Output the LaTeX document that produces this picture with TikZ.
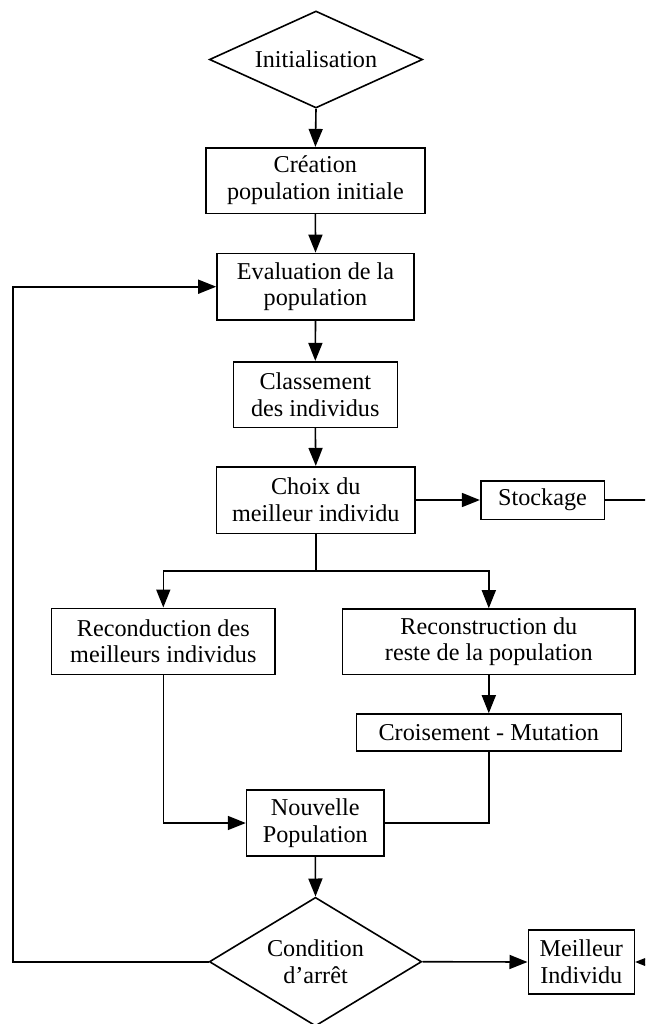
\documentclass[tikz,border=0pt]{standalone}
\usepackage{fontspec}
\setmainfont{Liberation Serif}
\usetikzlibrary{shapes.geometric,arrows.meta}
\begin{document}
\begin{tikzpicture}[x=0.5pt,y=-0.5pt,
  every node/.style={font=\fontsize{12.1pt}{13.4pt}\selectfont, align=center, inner sep=0pt},
  box/.style={draw, line width=0.8pt, rectangle},
  dia/.style={draw, line width=0.8pt, diamond},
  arr/.style={line width=0.8pt, -{Triangle[length=9pt,width=7pt]}},
  ln/.style={line width=0.8pt}]
\clip (0,0) rectangle (645,1024);
\node[dia, aspect=2.2, minimum width=106.6pt, minimum height=48.5pt] (init) at (316,59.5) {Initialisation};
\node[box, minimum width=109.7pt, minimum height=32.8pt] (crea) at (315.4,180.5) {Création\\population initiale};
\node[box, minimum width=98.5pt, minimum height=33.3pt] (eval) at (315.5,286.7) {Evaluation de la\\population};
\node[box, minimum width=82pt, minimum height=32.8pt] (clas) at (315.3,394.5) {Classement\\des individus};
\node[box, minimum width=99.2pt, minimum height=33.3pt] (choix) at (315.8,500) {Choix du\\meilleur individu};
\node[box, minimum width=61.8pt, minimum height=19.3pt] (stock) at (542.5,500) {Stockage};
\node[box, minimum width=111.7pt, minimum height=33pt] (recond) at (163.3,641.3) {Reconduction des\\meilleurs individus};
\node[box, minimum width=146.2pt, minimum height=32.7pt] (recons) at (488.8,641.7) {Reconstruction du\\reste de la population};
\node[box, minimum width=132.5pt, minimum height=18.5pt] (crois) at (488.8,732.5) {Croisement - Mutation};
\node[box, minimum width=68.7pt, minimum height=33pt] (nouv) at (315.3,823) {Nouvelle\\Population};
\node[dia, aspect=1.65, minimum width=106.2pt, minimum height=64.4pt] (cond) at (315.5,961.7) {Condition\\d’arrêt};
\node[box, minimum width=53pt, minimum height=32pt] (meil) at (581.3,962) {Meilleur\\Individu};
\coordinate (branch) at (315.8,571);
\coordinate (loopx) at (12.7,961.7);
\coordinate (rt) at (660,500);
\draw[arr] (init.south) -- (crea.north);
\draw[arr] (crea.south) -- (eval.north);
\draw[arr] (eval.south) -- (clas.north);
\draw[arr] (clas.south) -- (choix.north);
\draw[arr] (choix.east) -- (stock.west);
\draw[ln] (choix.south) -- (branch);
\draw[arr] (branch) -| (recond.north);
\draw[arr] (branch) -| (recons.north);
\draw[arr] (recons.south) -- (crois.north);
\draw[arr] (recond.south) |- (nouv.west);
\draw[ln] (crois.south) |- (nouv.east);
\draw[arr] (nouv.south) -- (cond.north);
\draw[arr] (cond.east) -- (meil.west);
\draw[arr] (cond.west) -- (loopx) |- (eval.west);
\draw[arr] (stock.east) -- (rt) |- (meil.east);
\end{tikzpicture}
\end{document}
